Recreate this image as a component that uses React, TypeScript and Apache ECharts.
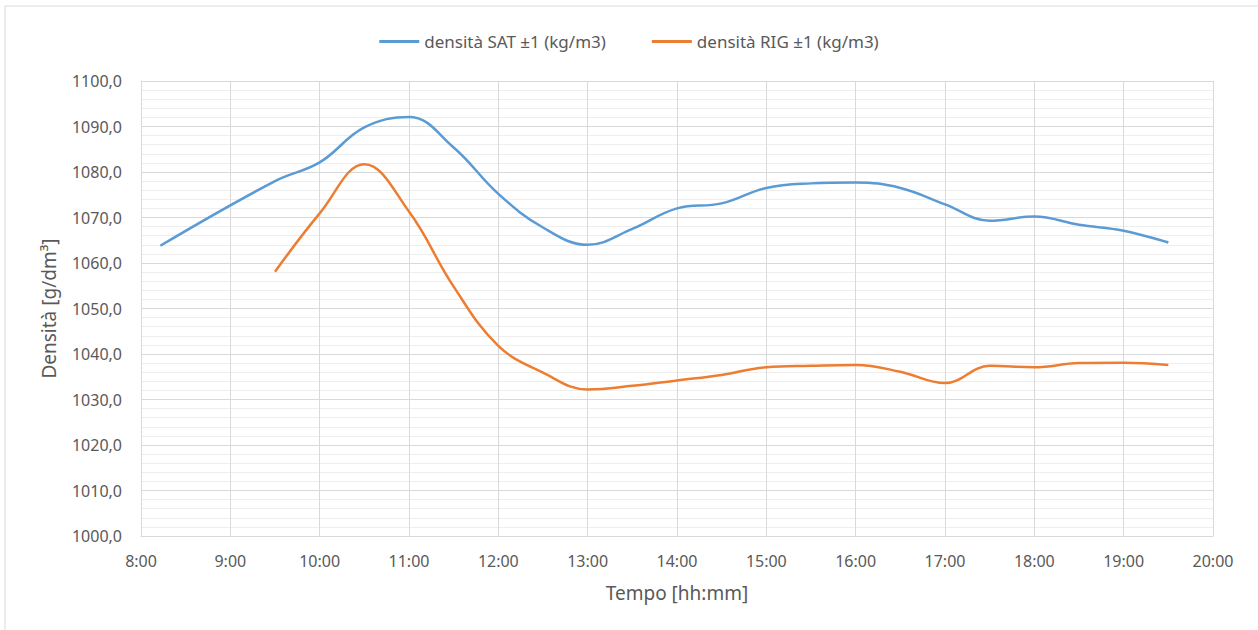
import React, { useEffect, useRef } from "react";
import * as echarts from "echarts";

const satTimes = ["8:13", "9:30", "10:00", "10:30", "11:00", "11:30", "12:00", "12:30", "13:00", "13:30", "14:00", "14:30", "15:00", "15:30", "16:00", "16:30", "17:00", "17:30", "18:00", "18:30", "19:00", "19:30"];
const satValues = [1063.8, 1078.0, 1082.1, 1089.8, 1092.1, 1085.4, 1075.2, 1067.8, 1064.0, 1067.5, 1072.0, 1073.1, 1076.5, 1077.5, 1077.7, 1076.5, 1072.9, 1069.3, 1070.2, 1068.4, 1067.1, 1064.5];

const rigTimes = ["9:30", "10:00", "10:30", "11:00", "11:30", "12:00", "12:30", "13:00", "13:30", "14:00", "14:30", "15:00", "15:30", "16:00", "16:30", "17:00", "17:30", "18:00", "18:30", "19:00", "19:30"];
const rigValues = [1058.1, 1070.9, 1081.7, 1071.3, 1054.8, 1041.8, 1035.9, 1032.2, 1033.0, 1034.2, 1035.4, 1037.1, 1037.4, 1037.6, 1036.1, 1033.6, 1037.4, 1037.1, 1038.0, 1038.1, 1037.6];

const seriesNames = ["densità SAT ±1 (kg/m3)", "densità RIG ±1 (kg/m3)"];
const xAxisTitle = "Tempo [hh:mm]";
const yAxisTitle = "Densità [g/dm³]";

const toMin = (t: string) => {
  const [h, m] = t.split(":").map(Number);
  return h * 60 + m;
};
const fmtMin = (v: number) => `${Math.floor(v / 60)}:${String(v % 60).padStart(2, "0")}`;

export default function App() {
  const ref = useRef<HTMLDivElement>(null);
  useEffect(() => {
    document.body.style.margin = "0";
    const chart = echarts.init(ref.current!, null, { renderer: "svg" });
    const font = "'Noto Sans', sans-serif";
    chart.setOption({
      animation: false,
      backgroundColor: "#ffffff",
      textStyle: { fontFamily: font },
      graphic: [
        {
          type: "rect",
          shape: { x: 5, y: 6, width: 1270, height: 640 },
          style: { fill: "none", stroke: "#d9d9d9", lineWidth: 1 },
          silent: true,
        },
      ],
      legend: {
        top: 28,
        left: "center",
        itemWidth: 40,
        itemHeight: 3,
        itemGap: 46,
        icon: "rect",
        textStyle: { color: "#595959", fontSize: 17, fontFamily: font, padding: [0, 0, 0, 0] },
        data: seriesNames,
      },
      grid: { left: 141, right: 45, top: 81, bottom: 94, containLabel: false },
      xAxis: {
        type: "value",
        min: 480,
        max: 1200,
        interval: 60,
        name: xAxisTitle,
        nameLocation: "middle",
        nameGap: 47,
        nameTextStyle: { color: "#595959", fontSize: 19, fontFamily: font },
        axisLine: { show: true, lineStyle: { color: "#d9d9d9", width: 1 } },
        axisTick: { show: false },
        axisLabel: { color: "#595959", fontSize: 16, margin: 17, formatter: (v: number) => fmtMin(v) },
        splitLine: { show: true, lineStyle: { color: "#d9d9d9", width: 1 } },
      },
      yAxis: {
        type: "value",
        min: 1000,
        max: 1100,
        interval: 10,
        name: yAxisTitle,
        nameLocation: "middle",
        nameGap: 83,
        nameTextStyle: { color: "#595959", fontSize: 19, fontFamily: font },
        axisLine: { show: true, lineStyle: { color: "#d9d9d9", width: 1 } },
        axisTick: { show: false },
        axisLabel: {
          color: "#595959",
          fontSize: 16,
          margin: 19,
          formatter: (v: number) => v.toFixed(1).replace(".", ","),
        },
        splitLine: { show: true, lineStyle: { color: "#d9d9d9", width: 1 } },
        minorTick: { show: false, splitNumber: 5 },
        minorSplitLine: { show: true, lineStyle: { color: "#eeeeee", width: 1 } },
      },
      series: [
        {
          name: seriesNames[0],
          type: "line",
          smooth: 0.4,
          symbol: "none",
          lineStyle: { color: "#5B9BD5", width: 2.5 },
          itemStyle: { color: "#5B9BD5" },
          data: satTimes.map((t, i) => [toMin(t), satValues[i]]),
        },
        {
          name: seriesNames[1],
          type: "line",
          smooth: 0.4,
          symbol: "none",
          lineStyle: { color: "#ED7D31", width: 2.5 },
          itemStyle: { color: "#ED7D31" },
          data: rigTimes.map((t, i) => [toMin(t), rigValues[i]]),
        },
      ],
    });
    return () => chart.dispose();
  }, []);
  return <div ref={ref} style={{ width: 1258, height: 630 }} />;
}
